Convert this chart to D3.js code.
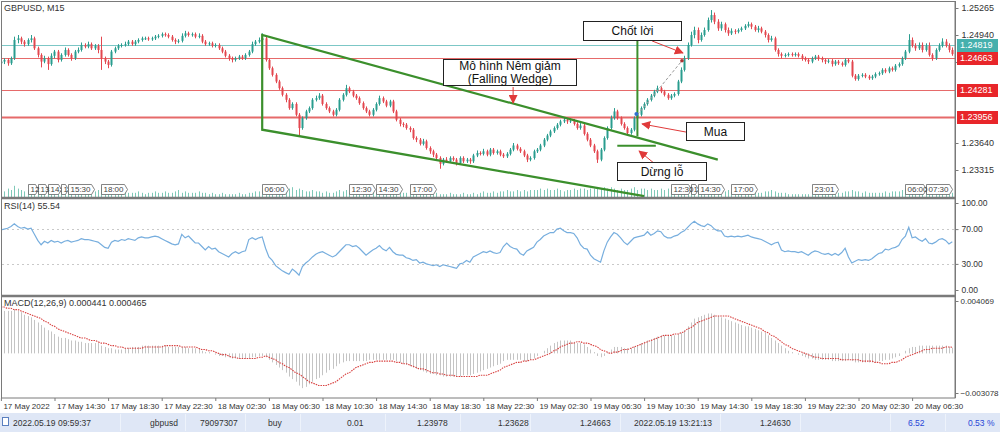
<!DOCTYPE html>
<html>
<head>
<meta charset="utf-8">
<script src="https://cdn.jsdelivr.net/npm/d3@7"></script>
<style>
  html, body { margin: 0; padding: 0; background: #fff; }
  svg { display: block; font-family: "Liberation Sans", Arial, sans-serif; }
</style>
</head>
<body>
<div id="chart"></div>
<script>
// ---------------- data (GBPUSD M15, 17 May 10:30 -> 20 May 09:30) ----------------
const opens = [
1.2460,1.2462,1.2464,1.2460,1.2466,1.2488,1.2490,1.2486,1.2483,1.2488,
1.2490,1.2478,1.2470,1.2462,1.2466,1.2459,1.2469,1.2474,1.2464,1.2470,
1.2476,1.2470,1.2466,1.2474,1.2476,1.2482,1.2480,1.2483,1.2478,1.2481,
1.2476,1.2466,1.2462,1.2458,1.2474,1.2478,1.2481,1.2482,1.2483,1.2486,
1.2483,1.2486,1.2488,1.2490,1.2490,1.2489,1.2490,1.2492,1.2493,1.2495,
1.2494,1.2492,1.2488,1.2486,1.2487,1.2493,1.2496,1.2494,1.2495,1.2492,
1.2493,1.2486,1.2483,1.2484,1.2481,1.2482,1.2478,1.2474,1.2469,1.2466,
1.2464,1.2466,1.2468,1.2466,1.2470,1.2474,1.2483,1.2486,1.2488,1.2490,
1.2464,1.2454,1.2446,1.2438,1.2430,1.2422,1.2416,1.2406,1.2411,1.2398,
1.2382,1.2394,1.2402,1.2406,1.2416,1.2418,1.2421,1.2411,1.2406,1.2402,
1.2398,1.2404,1.2416,1.2422,1.2430,1.2426,1.2421,1.2418,1.2412,1.2406,
1.2402,1.2398,1.2404,1.2411,1.2418,1.2414,1.2409,1.2414,1.2402,1.2392,
1.2387,1.2386,1.2382,1.2380,1.2370,1.2368,1.2363,1.2366,1.2358,1.2354,
1.2350,1.2346,1.2339,1.2344,1.2342,1.2346,1.2344,1.2340,1.2346,1.2342,
1.2344,1.2342,1.2349,1.2352,1.2351,1.2354,1.2350,1.2356,1.2352,1.2354,
1.2350,1.2348,1.2351,1.2356,1.2361,1.2357,1.2354,1.2349,1.2344,1.2346,
1.2354,1.2356,1.2361,1.2368,1.2373,1.2378,1.2382,1.2386,1.2390,1.2392,
1.2390,1.2391,1.2387,1.2382,1.2385,1.2375,1.2368,1.2361,1.2354,1.2344,
1.2356,1.2370,1.2382,1.2394,1.2402,1.2394,1.2387,1.2382,1.2376,1.2380,
1.2394,1.2398,1.2406,1.2411,1.2416,1.2421,1.2426,1.2430,1.2426,1.2422,
1.2418,1.2421,1.2423,1.2438,1.2452,1.2466,1.2482,1.2494,1.2500,1.2488,
1.2494,1.2500,1.2512,1.2518,1.2510,1.2502,1.2507,1.2500,1.2496,1.2499,
1.2498,1.2500,1.2502,1.2505,1.2507,1.2504,1.2500,1.2502,1.2498,1.2494,
1.2488,1.2490,1.2476,1.2471,1.2469,1.2470,1.2471,1.2470,1.2471,1.2469,
1.2466,1.2464,1.2462,1.2466,1.2468,1.2466,1.2464,1.2462,1.2463,1.2459,
1.2462,1.2460,1.2458,1.2464,1.2462,1.2445,1.2441,1.2445,1.2446,1.2444,
1.2442,1.2444,1.2447,1.2448,1.2452,1.2450,1.2454,1.2452,1.2457,1.2459,
1.2466,1.2474,1.2488,1.2481,1.2478,1.2482,1.2476,1.2481,1.2470,1.2466,
1.2476,1.2481,1.2486,1.2481,1.2476];

const highs = [
1.2464,1.2466,1.2466,1.2468,1.2492,1.2494,1.2492,1.2488,1.2490,1.2494,
1.2492,1.2480,1.2472,1.2469,1.2468,1.2472,1.2476,1.2476,1.2472,1.2479,
1.2478,1.2472,1.2476,1.2479,1.2485,1.2484,1.2486,1.2485,1.2483,1.2483,
1.2492,1.2468,1.2464,1.2476,1.2480,1.2483,1.2484,1.2486,1.2488,1.2488,
1.2488,1.2490,1.2492,1.2492,1.2492,1.2492,1.2494,1.2495,1.2497,1.2497,
1.2496,1.2494,1.2490,1.2489,1.2496,1.2499,1.2498,1.2497,1.2497,1.2496,
1.2495,1.2488,1.2486,1.2486,1.2484,1.2484,1.2480,1.2476,1.2471,1.2468,
1.2468,1.2470,1.2470,1.2472,1.2476,1.2486,1.2488,1.2491,1.2496,1.2492,
1.2466,1.2456,1.2448,1.2440,1.2432,1.2424,1.2418,1.2413,1.2413,1.2400,
1.2396,1.2404,1.2408,1.2418,1.2421,1.2424,1.2423,1.2413,1.2408,1.2404,
1.2406,1.2418,1.2424,1.2434,1.2432,1.2428,1.2423,1.2420,1.2414,1.2408,
1.2404,1.2406,1.2413,1.2421,1.2420,1.2416,1.2416,1.2416,1.2404,1.2394,
1.2389,1.2388,1.2384,1.2382,1.2372,1.2370,1.2369,1.2368,1.2360,1.2356,
1.2352,1.2348,1.2346,1.2347,1.2348,1.2348,1.2346,1.2348,1.2348,1.2346,
1.2346,1.2351,1.2355,1.2354,1.2357,1.2356,1.2358,1.2358,1.2356,1.2356,
1.2352,1.2353,1.2358,1.2364,1.2363,1.2359,1.2356,1.2351,1.2348,1.2356,
1.2358,1.2363,1.2370,1.2375,1.2380,1.2384,1.2388,1.2392,1.2395,1.2394,
1.2394,1.2393,1.2389,1.2388,1.2387,1.2377,1.2370,1.2363,1.2356,1.2358,
1.2372,1.2384,1.2397,1.2406,1.2404,1.2396,1.2389,1.2384,1.2382,1.2396,
1.2400,1.2408,1.2413,1.2418,1.2423,1.2428,1.2433,1.2432,1.2428,1.2424,
1.2423,1.2425,1.2440,1.2455,1.2469,1.2485,1.2498,1.2504,1.2503,1.2497,
1.2503,1.2515,1.2524,1.2521,1.2513,1.2510,1.2509,1.2503,1.2502,1.2501,
1.2502,1.2504,1.2507,1.2510,1.2509,1.2506,1.2505,1.2504,1.2500,1.2496,
1.2493,1.2492,1.2478,1.2473,1.2472,1.2473,1.2473,1.2473,1.2473,1.2471,
1.2468,1.2466,1.2468,1.2470,1.2470,1.2468,1.2466,1.2465,1.2465,1.2464,
1.2464,1.2462,1.2466,1.2466,1.2464,1.2447,1.2447,1.2448,1.2448,1.2446,
1.2446,1.2449,1.2450,1.2454,1.2454,1.2456,1.2456,1.2459,1.2461,1.2468,
1.2476,1.2495,1.2491,1.2484,1.2485,1.2485,1.2484,1.2485,1.2472,1.2478,
1.2484,1.2490,1.2489,1.2484,1.2479];

const lows = [
1.2457,1.2459,1.2457,1.2458,1.2464,1.2484,1.2483,1.2480,1.2481,1.2485,
1.2476,1.2467,1.2455,1.2460,1.2452,1.2457,1.2466,1.2461,1.2462,1.2468,
1.2468,1.2463,1.2464,1.2472,1.2474,1.2478,1.2478,1.2476,1.2476,1.2472,
1.2452,1.2459,1.2454,1.2456,1.2472,1.2476,1.2479,1.2480,1.2481,1.2481,
1.2481,1.2484,1.2486,1.2488,1.2487,1.2487,1.2488,1.2490,1.2491,1.2492,
1.2490,1.2486,1.2483,1.2484,1.2485,1.2491,1.2492,1.2492,1.2490,1.2490,
1.2484,1.2481,1.2481,1.2479,1.2479,1.2476,1.2472,1.2467,1.2463,1.2461,
1.2462,1.2464,1.2464,1.2464,1.2468,1.2472,1.2481,1.2484,1.2486,1.2462,
1.2452,1.2444,1.2436,1.2428,1.2420,1.2413,1.2404,1.2404,1.2396,1.2372,
1.2380,1.2392,1.2400,1.2404,1.2414,1.2416,1.2409,1.2404,1.2400,1.2396,
1.2396,1.2402,1.2414,1.2420,1.2424,1.2419,1.2416,1.2410,1.2404,1.2400,
1.2396,1.2396,1.2402,1.2409,1.2412,1.2407,1.2407,1.2400,1.2390,1.2384,
1.2383,1.2380,1.2377,1.2368,1.2365,1.2361,1.2361,1.2356,1.2351,1.2347,
1.2344,1.2333,1.2337,1.2340,1.2340,1.2342,1.2337,1.2338,1.2340,1.2340,
1.2339,1.2340,1.2347,1.2349,1.2349,1.2348,1.2348,1.2350,1.2350,1.2348,
1.2346,1.2346,1.2349,1.2354,1.2355,1.2352,1.2347,1.2341,1.2342,1.2344,
1.2352,1.2354,1.2359,1.2366,1.2371,1.2376,1.2380,1.2384,1.2388,1.2387,
1.2388,1.2385,1.2380,1.2380,1.2373,1.2366,1.2359,1.2352,1.2340,1.2342,
1.2354,1.2368,1.2380,1.2392,1.2392,1.2385,1.2380,1.2373,1.2374,1.2378,
1.2392,1.2396,1.2404,1.2409,1.2414,1.2419,1.2424,1.2424,1.2420,1.2416,
1.2416,1.2419,1.2421,1.2436,1.2450,1.2464,1.2480,1.2490,1.2484,1.2486,
1.2492,1.2498,1.2509,1.2507,1.2499,1.2499,1.2497,1.2493,1.2494,1.2495,
1.2496,1.2498,1.2500,1.2503,1.2501,1.2498,1.2497,1.2496,1.2491,1.2485,
1.2486,1.2474,1.2468,1.2466,1.2467,1.2468,1.2468,1.2468,1.2467,1.2463,
1.2462,1.2459,1.2460,1.2464,1.2463,1.2461,1.2459,1.2460,1.2456,1.2457,
1.2458,1.2456,1.2456,1.2460,1.2443,1.2439,1.2439,1.2443,1.2442,1.2440,
1.2440,1.2442,1.2445,1.2446,1.2448,1.2448,1.2450,1.2450,1.2455,1.2457,
1.2464,1.2472,1.2479,1.2475,1.2476,1.2473,1.2474,1.2468,1.2463,1.2464,
1.2474,1.2479,1.2479,1.2473,1.2469];

const closes = [
1.2462,1.2464,1.2460,1.2466,1.2488,1.2490,1.2486,1.2483,1.2488,1.2490,
1.2478,1.2470,1.2462,1.2466,1.2459,1.2469,1.2474,1.2464,1.2470,1.2476,
1.2470,1.2466,1.2474,1.2476,1.2482,1.2480,1.2483,1.2478,1.2481,1.2476,
1.2466,1.2462,1.2458,1.2474,1.2478,1.2481,1.2482,1.2483,1.2486,1.2483,
1.2486,1.2488,1.2490,1.2490,1.2489,1.2490,1.2492,1.2493,1.2495,1.2494,
1.2492,1.2488,1.2486,1.2487,1.2493,1.2496,1.2494,1.2495,1.2492,1.2493,
1.2486,1.2483,1.2484,1.2481,1.2482,1.2478,1.2474,1.2469,1.2466,1.2464,
1.2466,1.2468,1.2466,1.2470,1.2474,1.2483,1.2486,1.2488,1.2490,1.2464,
1.2454,1.2446,1.2438,1.2430,1.2422,1.2416,1.2406,1.2411,1.2398,1.2382,
1.2394,1.2402,1.2406,1.2416,1.2418,1.2421,1.2411,1.2406,1.2402,1.2398,
1.2404,1.2416,1.2422,1.2430,1.2426,1.2421,1.2418,1.2412,1.2406,1.2402,
1.2398,1.2404,1.2411,1.2418,1.2414,1.2409,1.2414,1.2402,1.2392,1.2387,
1.2386,1.2382,1.2380,1.2370,1.2368,1.2363,1.2366,1.2358,1.2354,1.2350,
1.2346,1.2339,1.2344,1.2342,1.2346,1.2344,1.2340,1.2346,1.2342,1.2344,
1.2342,1.2349,1.2352,1.2351,1.2354,1.2350,1.2356,1.2352,1.2354,1.2350,
1.2348,1.2351,1.2356,1.2361,1.2357,1.2354,1.2349,1.2344,1.2346,1.2354,
1.2356,1.2361,1.2368,1.2373,1.2378,1.2382,1.2386,1.2390,1.2392,1.2390,
1.2391,1.2387,1.2382,1.2385,1.2375,1.2368,1.2361,1.2354,1.2344,1.2356,
1.2370,1.2382,1.2394,1.2402,1.2394,1.2387,1.2382,1.2376,1.2380,1.2394,
1.2398,1.2406,1.2411,1.2416,1.2421,1.2426,1.2430,1.2426,1.2422,1.2418,
1.2421,1.2423,1.2438,1.2452,1.2466,1.2482,1.2494,1.2500,1.2488,1.2494,
1.2500,1.2512,1.2518,1.2510,1.2502,1.2507,1.2500,1.2496,1.2499,1.2498,
1.2500,1.2502,1.2505,1.2507,1.2504,1.2500,1.2502,1.2498,1.2494,1.2488,
1.2490,1.2476,1.2471,1.2469,1.2470,1.2471,1.2470,1.2471,1.2469,1.2466,
1.2464,1.2462,1.2466,1.2468,1.2466,1.2464,1.2462,1.2463,1.2459,1.2462,
1.2460,1.2458,1.2464,1.2462,1.2445,1.2441,1.2445,1.2446,1.2444,1.2442,
1.2444,1.2447,1.2448,1.2452,1.2450,1.2454,1.2452,1.2457,1.2459,1.2466,
1.2474,1.2488,1.2481,1.2478,1.2482,1.2476,1.2481,1.2470,1.2466,1.2476,
1.2481,1.2486,1.2481,1.2476,1.2471];

const volumes = [
5,4,6,5,8,6,5,4,5,6,4,5,6,5,4,6,3,4,5,4,
4,5,3,4,5,4,3,4,4,5,7,5,4,3,4,3,3,4,3,3,
3,4,3,2,3,3,4,3,3,4,3,3,4,5,3,4,3,3,3,4,
3,3,2,3,2,2,3,2,2,2,2,3,2,2,3,3,4,4,5,7,
6,5,5,6,5,5,6,7,5,6,5,4,4,5,4,4,3,4,3,3,
4,5,4,5,3,4,3,3,4,3,3,4,3,4,3,3,4,4,3,3,
3,3,2,3,3,2,3,2,2,3,3,2,2,2,3,2,2,2,3,2,
2,3,2,3,4,3,3,4,3,4,4,5,4,4,5,4,5,4,5,5,
5,6,5,6,5,5,6,5,4,5,5,6,5,6,6,5,6,6,7,6,
7,6,7,6,5,6,5,5,6,7,5,6,6,5,6,5,5,6,5,6,
6,7,7,8,8,7,8,7,6,7,6,6,5,5,5,4,4,5,4,4,
4,3,4,3,3,3,3,3,4,4,5,4,3,3,3,2,2,2,2,2,
2,2,2,2,2,3,3,3,3,4,3,3,4,4,5,4,4,3,4,3,
3,3,3,3,4,3,4,4,4,5,6,7,6,5,5,6,5,4,5,5,
4,5,4,4,3];

const rsiValues = [
69,70,71,73,76,73,71,72,70,71, 64,57,52,56,54,57,55,56,54,56,
57,55,56,57,59,58,58,57,56,55, 52,49,48,55,57,56,58,57,59,58,
57,60,61,60,60,61,62,61,59,57, 55,53,52,53,64,60,62,58,54,54,
50,46,50,47,48,44,42,40,38,42, 44,42,44,45,58,60,58,60,61,48,
38,34,28,25,22,20,18,24,21,17, 27,31,34,38,41,43,44,42,40,38,
40,44,48,52,52,50,51,48,44,40, 43,46,48,51,47,45,49,44,41,40,
40,37,36,34,35,31,32,30,29,28, 29,27,29,28,27,26,25,30,31,34,
32,38,40,42,44,43,45,43,42,43, 50,54,50,48,47,42,40,45,47,49,
55,58,62,64,66,66,70,71,68,66, 66,65,60,52,48,47,40,36,34,32,
45,55,61,66,64,60,55,52,56,60, 61,62,63,67,63,65,68,67,62,60,
60,62,63,66,68,72,76,79,76,74, 73,76,74,70,68,68,62,61,62,61,
62,61,62,63,61,60,59,58,56,54, 52,54,55,46,44,45,44,44,43,44,
42,40,43,45,44,42,41,42,40,42, 40,43,48,38,31,33,35,34,35,34,
36,39,42,43,47,46,48,49,51,58, 62,72,60,61,58,56,59,54,53,55,
58,59,57,53,55.5];

const macdMain = [
0.0033,0.0033,0.0033,0.0033,0.0034,0.0033,0.0032,0.0030,0.0029,0.0028,
0.0026,0.0024,0.0022,0.0020,0.0018,0.0017,0.0015,0.0013,0.0012,0.0012,
0.0011,0.0010,0.0010,0.0009,0.0009,0.0008,0.0008,0.0008,0.0008,0.0008,
0.0006,0.0005,0.0004,0.0004,0.0003,0.0003,0.0003,0.0004,0.0004,0.0005,
0.0005,0.0005,0.0006,0.0006,0.0006,0.0006,0.0006,0.0006,0.0006,0.0006,
0.0005,0.0005,0.0005,0.0005,0.0005,0.0005,0.0004,0.0004,0.0004,0.0004,
0.0002,0.0001,0.0001,0,-0.0001,-0.0002,-0.0002,-0.0003,-0.0003,-0.0004,
-0.0004,-0.0004,-0.0004,-0.0004,-0.0004,-0.0003,-0.0003,-0.0002,-0.0002,-0.0003,
-0.0005,-0.0007,-0.0009,-0.0011,-0.0013,-0.0015,-0.0018,-0.0020,-0.0022,-0.0025,
-0.0027,-0.0026,-0.0024,-0.0022,-0.0020,-0.0019,-0.0017,-0.0015,-0.0013,-0.0012,
-0.0010,-0.0008,-0.0007,-0.0006,-0.0006,-0.0006,-0.0006,-0.0006,-0.0006,-0.0006,
-0.0005,-0.0005,-0.0005,-0.0005,-0.0005,-0.0005,-0.0005,-0.0005,-0.0006,-0.0007,
-0.0008,-0.0009,-0.0010,-0.0011,-0.0012,-0.0013,-0.0014,-0.0015,-0.0016,-0.0016,
-0.0017,-0.0017,-0.0018,-0.0018,-0.0018,-0.0018,-0.0018,-0.0018,-0.0017,-0.0017,
-0.0017,-0.0016,-0.0015,-0.0014,-0.0013,-0.0012,-0.0011,-0.0010,-0.0009,-0.0008,
-0.0006,-0.0005,-0.0005,-0.0005,-0.0005,-0.0005,-0.0006,-0.0006,-0.0005,-0.0004,
-0.0002,0,0.0002,0.0004,0.0006,0.0008,0.0009,0.0010,0.0010,0.0010,
0.0010,0.0009,0.0008,0.0008,0.0007,0.0005,0.0003,0.0001,-0.0002,-0.0003,
-0.0002,0.0001,0.0003,0.0005,0.0005,0.0005,0.0004,0.0004,0.0004,0.0005,
0.0006,0.0008,0.0009,0.0010,0.0011,0.0012,0.0013,0.0014,0.0014,0.0014,
0.0014,0.0014,0.0015,0.0016,0.0018,0.0021,0.0024,0.0027,0.0028,0.0029,
0.0030,0.0031,0.0031,0.0030,0.0029,0.0028,0.0027,0.0026,0.0025,0.0024,
0.0023,0.0022,0.0021,0.0021,0.0020,0.0019,0.0018,0.0017,0.0016,0.0014,
0.0012,0.0010,0.0008,0.0006,0.0004,0.0002,0.0001,0,-0.0001,-0.0002,
-0.0003,-0.0004,-0.0004,-0.0005,-0.0005,-0.0005,-0.0005,-0.0005,-0.0006,-0.0006,
-0.0006,-0.0006,-0.0006,-0.0005,-0.0006,-0.0007,-0.0007,-0.0007,-0.0007,-0.0007,
-0.0007,-0.0007,-0.0006,-0.0006,-0.0005,-0.0005,-0.0004,-0.0003,-0.0002,0,
0.0002,0.0004,0.0005,0.0005,0.0006,0.0006,0.0006,0.0006,0.0006,0.0006,
0.0006,0.0006,0.0006,0.0005,0.00044];

const macdSignal = [
0.0036,0.0036,0.0035,0.0035,0.0034,0.0034,0.0033,0.0032,0.0031,0.0030,
0.0029,0.0028,0.0027,0.0025,0.0024,0.0022,0.0021,0.0019,0.0018,0.0017,
0.0016,0.0015,0.0014,0.0013,0.0012,0.0012,0.0011,0.0010,0.0010,0.0009,
0.0008,0.0008,0.0007,0.0006,0.0006,0.0005,0.0005,0.0004,0.0004,0.0004,
0.0004,0.0004,0.0004,0.0005,0.0005,0.0005,0.0005,0.0005,0.0005,0.0006,
0.0006,0.0006,0.0006,0.0006,0.0005,0.0005,0.0005,0.0005,0.0005,0.0004,
0.0003,0.0003,0.0002,0.0002,0.0001,0,-0.0001,-0.0001,-0.0002,-0.0003,
-0.0003,-0.0004,-0.0004,-0.0004,-0.0004,-0.0004,-0.0004,-0.0003,-0.0003,-0.0002,
-0.0003,-0.0004,-0.0005,-0.0007,-0.0008,-0.0010,-0.0011,-0.0013,-0.0015,-0.0016,
-0.0018,-0.0020,-0.0022,-0.0023,-0.0024,-0.0025,-0.0025,-0.0025,-0.0024,-0.0023,
-0.0022,-0.0020,-0.0018,-0.0016,-0.0015,-0.0013,-0.0011,-0.0010,-0.0009,-0.0008,
-0.0007,-0.0007,-0.0006,-0.0006,-0.0006,-0.0006,-0.0006,-0.0006,-0.0007,-0.0007,
-0.0008,-0.0008,-0.0009,-0.0010,-0.0011,-0.0012,-0.0012,-0.0013,-0.0014,-0.0015,
-0.0015,-0.0016,-0.0016,-0.0017,-0.0017,-0.0017,-0.0018,-0.0018,-0.0018,-0.0018,
-0.0018,-0.0018,-0.0018,-0.0017,-0.0017,-0.0017,-0.0016,-0.0015,-0.0014,-0.0013,
-0.0011,-0.0010,-0.0009,-0.0008,-0.0007,-0.0007,-0.0006,-0.0006,-0.0005,-0.0005,
-0.0004,-0.0003,-0.0002,-0.0001,0,0.0002,0.0003,0.0005,0.0006,0.0007,
0.0008,0.0008,0.0009,0.0009,0.0008,0.0008,0.0007,0.0006,0.0005,0.0003,
0.0002,0.0001,0,0.0001,0.0001,0.0002,0.0003,0.0003,0.0004,0.0005,
0.0006,0.0007,0.0008,0.0009,0.0010,0.0011,0.0012,0.0013,0.0014,0.0014,
0.0014,0.0015,0.0015,0.0016,0.0017,0.0019,0.0020,0.0022,0.0024,0.0025,
0.0026,0.0027,0.0028,0.0029,0.0029,0.0029,0.0029,0.0029,0.0028,0.0027,
0.0026,0.0025,0.0024,0.0023,0.0022,0.0021,0.0020,0.0019,0.0017,0.0016,
0.0014,0.0013,0.0011,0.0009,0.0007,0.0006,0.0004,0.0003,0.0002,0.0001,
0,-0.0001,-0.0002,-0.0003,-0.0003,-0.0004,-0.0004,-0.0004,-0.0004,-0.0004,
-0.0004,-0.0005,-0.0005,-0.0005,-0.0005,-0.0005,-0.0005,-0.0006,-0.0006,-0.0006,
-0.0006,-0.0007,-0.0007,-0.0008,-0.0008,-0.0008,-0.0007,-0.0007,-0.0006,-0.0005,
-0.0003,-0.0002,-0.0001,0,0.0001,0.0002,0.0003,0.0003,0.0004,0.0004,
0.0004,0.0004,0.0005,0.0005,0.000465];

// price levels drawn as horizontal lines with their right-hand labels
const levelPrices = [1.24819, 1.24663, 1.24281, 1.23956];
const levelKinds  = ["teal", "red", "red", "red"];

// 1.24290 and 1.23965 sit fully under the level tags, so only the visible ones are listed
const priceTicks = [1.25265, 1.24940, 1.24615, 1.23640, 1.23315];
const rsiTicks = [100, 70, 30, 0];
const macdTicks = [0.004069, -0.003078];

// time axis: one label every 16 bars (4 hours)
const timeTickIdx = [0,16,32,48,64,80,96,112,128,144,160,176,192,208,224,240,256,272];
const timeLabels = ["17 May 2022","17 May 14:30","17 May 18:30","17 May 22:30","18 May 02:30",
  "18 May 06:30","18 May 10:30","18 May 14:30","18 May 18:30","18 May 22:30","19 May 02:30",
  "19 May 06:30","19 May 10:30","19 May 14:30","19 May 18:30","19 May 22:30","20 May 02:30","20 May 06:30"];

// vertical-line tags at the bottom of the price window
const vlineIdx  = [8,11,14,18,20,30,78,104,112,122,200,206,208,218,242,270,276];
const vlineText = ["12","13","14:","1","15:30","18:00","06:00","12:30","14:30","17:00",
  "12:30","1","14:30","17:00","23:01","06:00","07:30"];

// the trade
const entryIdx = 190, entryPrice = 1.23978;
const stopPrice = 1.23628, takePrice = 1.24663;
const exitIdx = 203.3, exitPrice = 1.24630;

const statusFields = ["2022.05.19 09:59:37","gbpusd","79097307","buy","0.01","1.23978",
  "1.23628","1.24663","2022.05.19 13:21:13","1.24630","6.52","0.53 %"];

// ---------------- layout ----------------
const W = 1000, H = 432;
const left = 2, right = 955;
const price = { top: 2, bottom: 197 };
const rsi   = { top: 199, bottom: 295 };
const macd  = { top: 297, bottom: 398 };

const bull = "#2a9d8f", bear = "#e3474f";
const tealLine = "#7cc7c6", redLine = "#e66a6a";
const green = "#3b8f2c", arrowRed = "#e03a3a";

const svg = d3.select("#chart").append("svg")
  .attr("width", W).attr("height", H)
  .style("font-size", "9px");

svg.append("rect").attr("width", W).attr("height", H).attr("fill", "#fff");

const defs = svg.append("defs");
[["clipPrice", price], ["clipRsi", rsi], ["clipMacd", macd]].forEach(([id, p]) => {
  defs.append("clipPath").attr("id", id).append("rect")
    .attr("x", left).attr("y", p.top).attr("width", right - left).attr("height", p.bottom - p.top);
});
defs.append("marker").attr("id", "arrowHead")
  .attr("viewBox", "0 0 10 10").attr("refX", 9).attr("refY", 5)
  .attr("markerWidth", 9).attr("markerHeight", 9).attr("markerUnits", "userSpaceOnUse")
  .attr("orient", "auto")
  .append("path").attr("d", "M0,0L10,5L0,10z").attr("fill", arrowRed);

// scales
const x = d3.scaleLinear().domain([0, 284]).range([0.9, 952.3]);
const yP = d3.scaleLinear().domain([1.23315, 1.25265]).range([170, 8]);
const yR = d3.scaleLinear().domain([0, 100]).range([290, 203]);
const yM = d3.scaleLinear().domain([-0.003078, 0.004069]).range([393, 301]);
const yV = d3.scaleLinear().domain([0, 10]).range([price.bottom, 183]);

const bars = closes.map((c, i) => ({ i, o: opens[i], h: highs[i], l: lows[i], c, v: volumes[i] }));

// ---------------- price window ----------------
const gP = svg.append("g").attr("clip-path", "url(#clipPrice)");

// volumes
gP.selectAll("line.vol").data(bars).join("line")
  .attr("x1", d => Math.round(x(d.i)) + 0.5).attr("x2", d => Math.round(x(d.i)) + 0.5)
  .attr("y1", yV(0)).attr("y2", d => yV(d.v))
  .attr("stroke", "#7fc9b8").attr("stroke-width", 1);

// horizontal levels
gP.selectAll("line.level").data(levelPrices).join("line")
  .attr("x1", left).attr("x2", right)
  .attr("y1", d => Math.round(yP(d)) + 0.5).attr("y2", d => Math.round(yP(d)) + 0.5)
  .attr("stroke", (d, i) => levelKinds[i] === "teal" ? tealLine : redLine)
  .attr("stroke-width", (d, i) => i === 3 ? 2 : 1.2);

// candles
gP.selectAll("line.wick").data(bars).join("line")
  .attr("x1", d => Math.round(x(d.i)) + 0.5).attr("x2", d => Math.round(x(d.i)) + 0.5)
  .attr("y1", d => yP(d.h)).attr("y2", d => yP(d.l))
  .attr("stroke", d => d.c >= d.o ? bull : bear).attr("stroke-width", 1);
gP.selectAll("rect.body").data(bars).join("rect")
  .attr("x", d => Math.round(x(d.i)) - 0.5)
  .attr("width", 2)
  .attr("y", d => yP(Math.max(d.o, d.c)))
  .attr("height", d => Math.max(1, Math.abs(yP(d.o) - yP(d.c))))
  .attr("fill", d => d.c >= d.o ? bull : bear);

// falling wedge
const line = d3.line().x(d => x(d[0])).y(d => yP(d[1]));
gP.append("path").attr("d", line([[192, 1.2300], [78, 1.2380], [78, 1.2494], [214, 1.2344]]))
  .attr("fill", "none").attr("stroke", green).attr("stroke-width", 2.2);

// take-profit vertical and stop-loss bar
gP.append("line")
  .attr("x1", x(entryIdx)).attr("x2", x(entryIdx))
  .attr("y1", yP(1.2489)).attr("y2", yP(1.2372))
  .attr("stroke", green).attr("stroke-width", 2);
gP.append("line")
  .attr("x1", x(184)).attr("x2", x(195.5))
  .attr("y1", yP(stopPrice - 0.0002)).attr("y2", yP(stopPrice - 0.0002))
  .attr("stroke", green).attr("stroke-width", 2);

// trade line (entry -> exit)
gP.append("line")
  .attr("x1", x(entryIdx)).attr("y1", yP(entryPrice))
  .attr("x2", x(exitIdx)).attr("y2", yP(exitPrice))
  .attr("stroke", "#999").attr("stroke-width", 1).attr("stroke-dasharray", "3,2");
gP.append("circle").attr("cx", x(entryIdx) - 1).attr("cy", yP(entryPrice + 0.0001)).attr("r", 2)
  .attr("fill", "#2f6fd0");
gP.append("circle").attr("cx", x(exitIdx)).attr("cy", yP(exitPrice)).attr("r", 1.8)
  .attr("fill", "#a33");

// vertical-line tags
const tagG = gP.append("g").style("font-size", "8px");
vlineIdx.forEach((idx, k) => {
  const x0 = Math.round(x(idx)) + 0.5;
  const next = k + 1 < vlineIdx.length ? Math.round(x(vlineIdx[k + 1])) + 0.5 : 9999;
  const t = tagG.append("text").attr("x", x0 + 2).attr("y", 192).attr("fill", "#444").text(vlineText[k]);
  const w = Math.min(t.node().getComputedTextLength() + 6, next - x0);
  tagG.insert("path", "text")
    .attr("d", `M${x0},184.5H${x0 + w - 3}L${x0 + w},189.5L${x0 + w - 3},194.5H${x0}Z`)
    .attr("fill", "#fff").attr("stroke", "#666").attr("stroke-width", 0.8);
});

// annotation boxes
const boxes = [
  { lines: ["Chốt lời"], i0: 173.8, i1: 203, p0: 1.25109, p1: 1.24880 },
  { lines: ["Mô hình Nêm giảm", "(Falling Wedge)"], i0: 132, i1: 171.7, p0: 1.24651, p1: 1.24338 },
  { lines: ["Mua"], i0: 204.5, i1: 221.8, p0: 1.23893, p1: 1.23676 },
  { lines: ["Dừng lỗ"], i0: 184, i1: 210.5, p0: 1.23411, p1: 1.23195 }
];
const arrows = [
  [[194.4, 1.24868], [203.6, 1.24723]],
  [[152.9, 1.24314], [152.9, 1.24121]],
  [[204.5, 1.23772], [191.4, 1.23869]],
  [[194.9, 1.23399], [190.5, 1.23544]]
];
arrows.forEach(a => {
  svg.append("line")
    .attr("x1", x(a[0][0])).attr("y1", yP(a[0][1]))
    .attr("x2", x(a[1][0])).attr("y2", yP(a[1][1]))
    .attr("stroke", arrowRed).attr("stroke-width", 1)
    .attr("marker-end", "url(#arrowHead)");
});
boxes.forEach(b => {
  const bx = Math.round(x(b.i0)) + 0.5, by = Math.round(yP(b.p0)) + 0.5;
  const bw = Math.round(x(b.i1) - x(b.i0)), bh = Math.round(yP(b.p1) - yP(b.p0));
  svg.append("rect").attr("x", bx).attr("y", by).attr("width", bw).attr("height", bh)
    .attr("fill", "#fff").attr("stroke", "#222").attr("stroke-width", 1);
  const n = b.lines.length;
  b.lines.forEach((s, k) => {
    svg.append("text")
      .attr("x", bx + bw / 2).attr("y", by + bh / 2 + (k - (n - 1) / 2) * 13)
      .attr("dy", "0.36em").attr("text-anchor", "middle")
      .style("font-size", "12px").attr("fill", "#111").text(s);
  });
});

svg.append("text").attr("x", 4).attr("y", 11).attr("fill", "#333").text("GBPUSD, M15");

// ---------------- RSI window ----------------
const gR = svg.append("g").attr("clip-path", "url(#clipRsi)");
gR.selectAll("line.rl").data([70, 30]).join("line")
  .attr("x1", left).attr("x2", right)
  .attr("y1", d => Math.round(yR(d)) + 0.5).attr("y2", d => Math.round(yR(d)) + 0.5)
  .attr("stroke", "#c9c9c9").attr("stroke-dasharray", "2,3");
gR.append("path").datum(rsiValues)
  .attr("d", d3.line().x((d, i) => x(i)).y(d => yR(d)))
  .attr("fill", "none").attr("stroke", "#77aede").attr("stroke-width", 1.2);
svg.append("text").attr("x", 4).attr("y", 209).attr("fill", "#333").text("RSI(14) 55.54");

// ---------------- MACD window ----------------
const gM = svg.append("g").attr("clip-path", "url(#clipMacd)");
gM.selectAll("line.hist").data(macdMain).join("line")
  .attr("x1", (d, i) => Math.round(x(i)) + 0.5).attr("x2", (d, i) => Math.round(x(i)) + 0.5)
  .attr("y1", yM(0)).attr("y2", d => yM(d))
  .attr("stroke", "#c4c4c4").attr("stroke-width", 1);
gM.append("path").datum(macdSignal)
  .attr("d", d3.line().curve(d3.curveMonotoneX).x((d, i) => x(i)).y(d => yM(d)))
  .attr("fill", "none").attr("stroke", "#d8403f").attr("stroke-width", 1.1)
  .attr("stroke-dasharray", "1.5,1");
svg.append("text").attr("x", 4).attr("y", 306).attr("fill", "#333").text("MACD(12,26,9) 0.000441 0.000465");

// ---------------- frames ----------------
const frame = svg.append("g").attr("fill", "none").attr("stroke", "#7a7a7a");
frame.append("rect").attr("x", 1.5).attr("y", 1.5).attr("width", right - 1.5).attr("height", macd.bottom - 1.5)
  .attr("stroke-width", 1);
[price.bottom + 1, rsi.bottom + 1].forEach(yy => {
  frame.append("line").attr("x1", 1).attr("x2", right).attr("y1", yy).attr("y2", yy).attr("stroke-width", 2.5);
});

// ---------------- axes ----------------
function styleAxis(size) {
  return g => {
    g.select(".domain").attr("stroke", "#7a7a7a");
    g.selectAll(".tick line").attr("stroke", "#7a7a7a");
    g.selectAll(".tick text").attr("fill", "#333").style("font-size", size)
      .style("font-family", '"Liberation Sans", Arial, sans-serif');
  };
}
svg.append("g").attr("transform", `translate(${right + 0.5},0)`)
  .call(d3.axisRight(yP).tickValues(priceTicks).tickSize(3).tickPadding(3).tickFormat(d3.format(".5f")))
  .call(g => g.select(".domain").attr("d", `M0,1V${price.bottom + 2}`)).call(styleAxis("9px"));
svg.append("g").attr("transform", `translate(${right + 0.5},0)`)
  .call(d3.axisRight(yR).tickValues(rsiTicks).tickSize(3).tickPadding(3).tickFormat(d3.format(".2f")))
  .call(g => g.select(".domain").attr("d", `M0,${rsi.top - 1}V${rsi.bottom + 2}`)).call(styleAxis("8.5px"));
svg.append("g").attr("transform", `translate(${right + 0.5},0)`)
  .call(d3.axisRight(yM).tickValues(macdTicks).tickSize(3).tickPadding(2).tickFormat(d3.format(".6f")))
  .call(g => g.select(".domain").attr("d", `M0,${macd.top - 1}V${macd.bottom}`)).call(styleAxis("8px"));

// level price tags on the axis
levelPrices.forEach((p, i) => {
  const yy = Math.round(yP(p));
  const c = levelKinds[i] === "teal" ? "#45b0ad" : "#e8262a";
  svg.append("rect").attr("x", right + 2).attr("y", yy - 6).attr("width", 41).attr("height", 13).attr("fill", c);
  svg.append("text").attr("x", right + 5).attr("y", yy).attr("dy", "0.35em")
    .attr("fill", "#fff").text(d3.format(".5f")(p));
});

// time axis
svg.append("g").attr("transform", `translate(0,${macd.bottom})`)
  .call(d3.axisBottom(x).tickValues(timeTickIdx).tickSize(3).tickPadding(2)
    .tickFormat((d, i) => timeLabels[i]))
  .call(g => g.select(".domain").remove())
  .call(styleAxis("8px"))
  .call(g => g.selectAll(".tick text").attr("text-anchor", "start").attr("dx", 2));

// ---------------- trade row ----------------
const statusX = [13, 150, 200, 268, 347, 417, 498, 580, 634, 760, 908, 968];
const row = svg.append("g").style("font-size", "8.5px");
row.append("rect").attr("x", 0).attr("y", 413).attr("width", W).attr("height", 19).attr("fill", "#dfe7f6");
[120, 185, 245, 300, 385, 460, 530, 620, 720, 800, 890, 945].forEach(sx => {
  row.append("line").attr("x1", sx + 0.5).attr("x2", sx + 0.5).attr("y1", 414).attr("y2", 431)
    .attr("stroke", "#eef3fb");
});
row.append("rect").attr("x", 2.5).attr("y", 417.5).attr("width", 6).attr("height", 8)
  .attr("fill", "#fff").attr("stroke", "#5a7fbf");
statusFields.forEach((s, i) => {
  row.append("text").attr("x", statusX[i]).attr("y", 426)
    .attr("fill", i >= 10 ? "#2746d6" : "#333").text(s);
});
</script>
</body>
</html>
